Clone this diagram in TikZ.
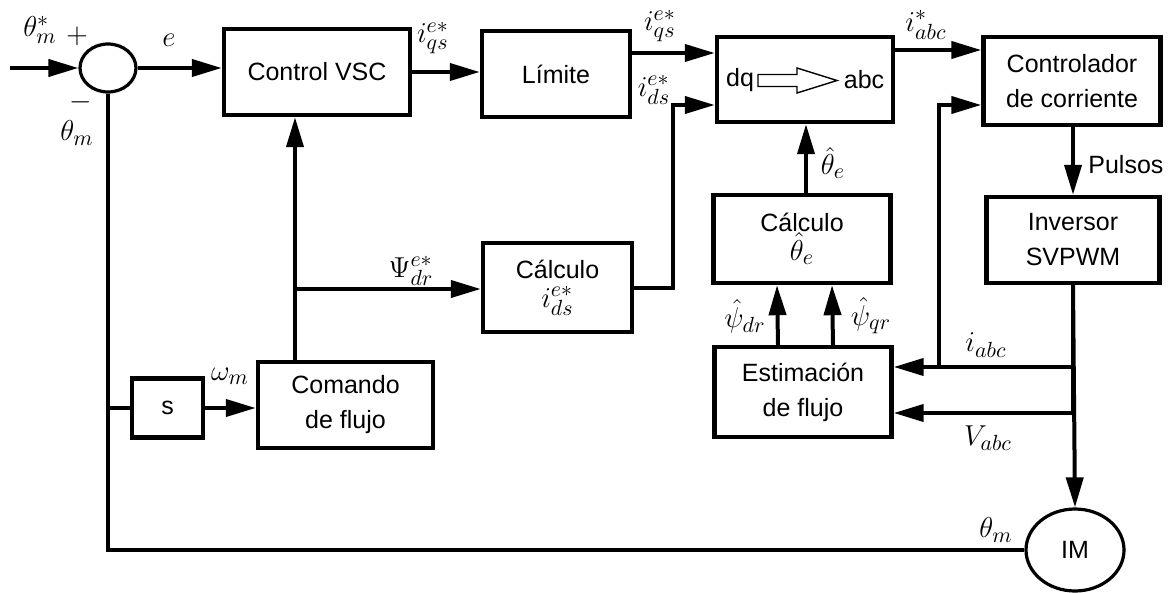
\documentclass[tikz,border=0pt]{standalone}
\usepackage{fontspec}
\setmainfont{Liberation Sans}
\usetikzlibrary{arrows.meta,shapes.geometric,calc}
\begin{document}
\begin{tikzpicture}[x=0.5pt,y=-0.5pt,
  blk/.style={draw, line width=2.2pt, align=center, font=\fontsize{12.5}{17.5}\selectfont, inner sep=0pt},
  lbl/.style={font=\fontsize{15.5}{18}\selectfont, inner sep=0pt},
  bm/.style={font=\fontsize{15.5}{18}\selectfont},
  txt/.style={font=\fontsize{12.5}{14}\selectfont, inner sep=0pt},
  wire/.style={line width=2pt},
  arr/.style={line width=2pt, -{Triangle[length=15pt,width=8.5pt]}},
  oval/.style={draw, ellipse, line width=1.6pt, inner sep=0pt}]
\useasboundingbox (0,0) rectangle (1171,593);
% blocks
\node[oval, minimum width=28pt, minimum height=24pt] (sum) at (108,68) {};
\node[blk, minimum width=93pt, minimum height=43pt] (vsc) at (317,72) {Control VSC};
\node[blk, minimum width=74pt, minimum height=43pt] (lim) at (556,74) {Límite};
\node[blk, minimum width=88pt, minimum height=42.5pt] (dq) at (805,79.5) {};
\node[txt] (dqt) at (740,80) {dq};
\node[txt] (abct) at (864,80) {abc};
\node[blk, minimum width=88.5pt, minimum height=44pt] (ctrl) at (1072,81) {Controlador\\de corriente};
\node[blk, minimum width=86.5pt, minimum height=43pt] (inv) at (1073,240) {Inversor\\SVPWM};
\node[blk, minimum width=88.5pt, minimum height=44pt] (cth) at (802,239) {Cálculo\\[-3pt]{\fontsize{15.5}{18}\selectfont$\hat{\theta}_e$}};
\node[blk, minimum width=88.5pt, minimum height=45pt] (est) at (803,392) {Estimación\\de flujo};
\node[blk, minimum width=74.5pt, minimum height=44.5pt] (cids) at (557.5,287.5) {Cálculo\\[-3pt]{\fontsize{15.5}{18}\selectfont$i_{ds}^{e*}$}};
\node[blk, minimum width=87.5pt, minimum height=43pt] (com) at (345.5,405) {Comando\\de flujo};
\node[blk, minimum width=35.5pt, minimum height=29.5pt] (s) at (167.5,408) {s};
\node[oval, minimum width=49pt, minimum height=41pt, font=\fontsize{12.5}{14}\selectfont] (im) at (1075,550) {IM};
% hollow arrow inside dq box
\draw[line width=0.7pt] (758,74.5) -- (797,74.5) -- (797,68) -- (837,80.5) -- (797,93) -- (797,86.5) -- (758,86.5) -- cycle;
% coordinates
\coordinate (in) at (10,68);
\coordinate (jP) at (295,289);
\coordinate (jI) at (1073,367);
\coordinate (jV) at (1073,413);
\coordinate (jC) at (939,367);
% connectors
\draw[arr] (in) -- (sum.west);
\draw[arr] (sum.east) -- (sum.east -| vsc.west);
\draw[arr] (vsc.east |- 0,72) -- (lim.west |- 0,72);
\draw[arr] ([yshift=10.5pt]lim.east) -- ([yshift=10.5pt]lim.east -| dq.west);
\draw[arr] (cids.east) -- ++(39,0) |- ([yshift=-12.75pt]dq.west);
\draw[arr] ([yshift=14.75pt]dq.east) -- ([yshift=14.75pt]dq.east -| ctrl.west);
\draw[arr] (ctrl.south -| inv.north) -- (inv.north);
\draw[arr] (inv.south) -- (im.north);
\draw[wire] (inv.south) -- (jV);
\draw[arr] (jI) -- (jI -| est.east);
\draw[arr] (jV) -- (jV -| est.east);
\draw[arr] (jC) |- ([yshift=-12pt]ctrl.west);
\draw[arr] (cth.north -| 806,0) -- (dq.south -| 806,0);
\draw[arr] ([xshift=-12.5pt]est.north) -- ([xshift=-12.5pt]cth.south);
\draw[arr] ([xshift=15pt]est.north) -- ([xshift=15pt]cth.south);
\draw[arr] (jP |- com.north) -- (jP |- vsc.south);
\draw[arr] (jP) -- (jP -| cids.west);
\draw[wire] (sum.south) |- (im.west);
\draw[wire] (sum.south |- s) -- (s.west);
\draw[arr] (s.east) -- (s.east -| com.west);
% labels
\node[lbl] (l1) at (40,30) {$\theta_m^*$};
\node[lbl] (l2) at (77,36) {$+$};
\node[lbl] (l3) at (169,40) {$e$};
\node[lbl] (l4) at (81,102) {$-$};
\node[lbl] (l5) at (77,133) {$\theta_m$};
\node[lbl] (l6) at (433,38) {$i_{qs}^{e*}$};
\node[lbl] (l7) at (660,26) {$i_{qs}^{e*}$};
\node[lbl] (l8) at (654,90) {$i_{ds}^{e*}$};
\node[lbl] (l9) at (926,25) {$i_{abc}^{*}$};
\node[txt, anchor=west] (l10) at (1088,165) {Pulsos};
\node[lbl] (l11) at (833,163) {$\hat{\theta}_e$};
\node[lbl] (l12) at (745,316) {$\hat{\psi}_{dr}$};
\node[lbl] (l13) at (871,316) {$\hat{\psi}_{qr}$};
\node[lbl] (l14) at (986,345) {$i_{abc}$};
\node[lbl] (l15) at (988,438) {$V_{abc}$};
\node[lbl] (l16) at (996,530) {$\theta_m$};
\node[lbl] (l17) at (411,271) {$\Psi_{dr}^{e*}$};
\node[lbl] (l18) at (230,376) {$\omega_m$};
\end{tikzpicture}
\end{document}
